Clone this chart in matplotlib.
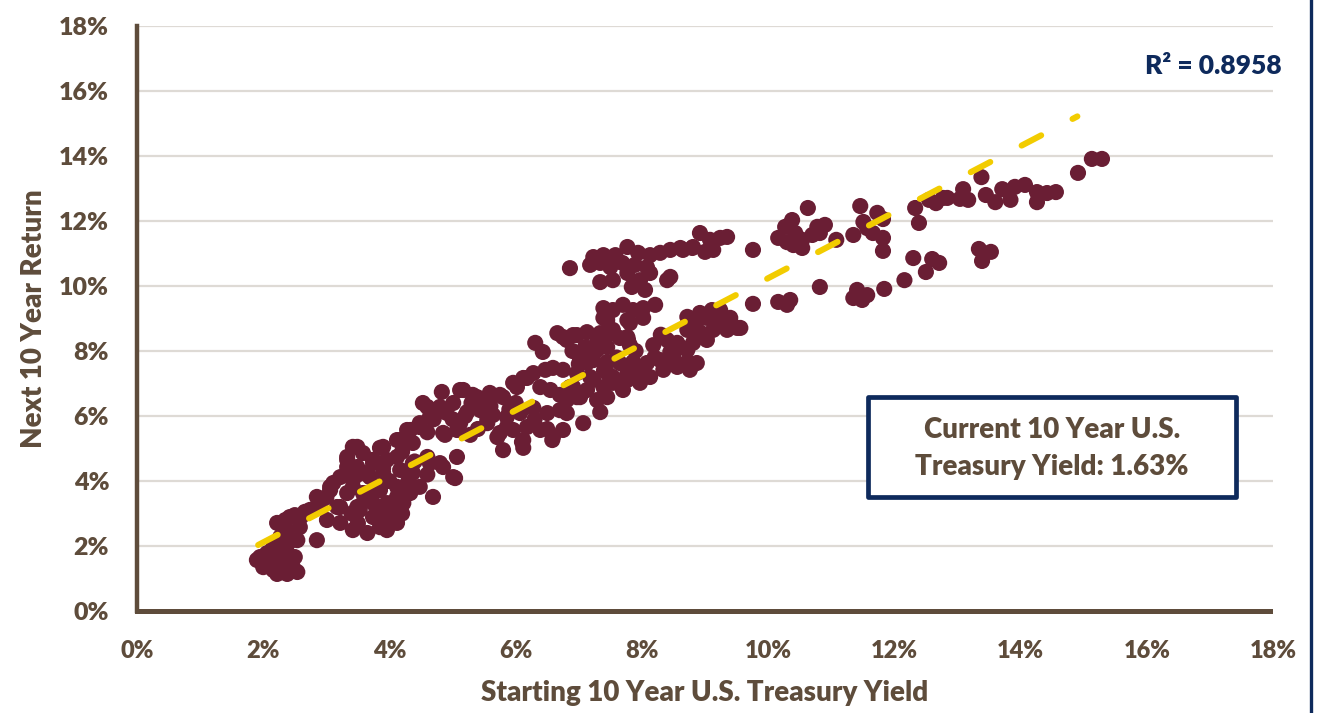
import matplotlib
matplotlib.use("Agg")
import matplotlib.pyplot as plt
from matplotlib.lines import Line2D
from matplotlib.patches import Rectangle
from matplotlib.ticker import FuncFormatter
import numpy as np

# ---- data (percent) ----
start_yield = [
    # low cluster
    1.90, 1.95, 2.06, 2.22, 2.38, 2.50, 2.00, 2.16, 2.31, 2.47, 2.22, 2.38, 2.54,
    2.16, 2.27, 2.54, 2.22, 2.42, 2.38, 2.58, 2.74, 2.90, 3.06, 2.85, 3.01, 3.22,
    3.17, 2.85, 3.11, 2.35, 2.50, 2.66,
    2.10, 2.30, 2.45, 2.20, 2.40, 2.60, 2.90, 3.00,
    # 3-5%
    3.33, 3.49, 3.33, 3.42, 3.65, 3.74, 3.65, 3.85, 3.53, 3.74, 3.42, 3.65, 3.85,
    4.06, 3.96, 4.12, 3.90, 4.12, 4.28, 4.48, 4.37, 4.60, 4.80, 5.07, 5.01, 4.69,
    4.12, 3.96, 3.42, 3.58, 3.85, 3.33, 3.49, 3.74, 3.96, 4.12, 3.22, 3.42, 3.69,
    3.90, 4.17, 4.37, 3.06, 3.33, 3.58, 3.85, 4.12, 4.33, 4.48, 3.22, 3.49, 3.74,
    4.01, 4.22, 3.90, 4.12, 5.04,
    3.50, 3.60, 3.80, 4.00, 4.20, 4.30, 3.50, 3.90, 4.20, 4.40, 3.40, 4.60,
    # 4.3-7%
    4.83, 5.17, 4.53, 4.80, 5.01, 5.39, 5.59, 5.80, 6.02, 6.18, 4.64, 4.88, 5.12,
    5.28, 5.55, 5.71, 5.86, 5.80, 6.12, 6.12, 4.33, 4.48, 4.17, 4.37, 5.12, 5.32,
    5.55, 5.75, 4.60, 5.23, 5.44, 5.64, 5.86, 6.07, 6.28, 6.50, 6.70, 4.85, 5.07,
    5.55, 5.75, 5.96, 6.18, 6.39, 6.59, 6.75, 6.10, 6.58, 4.64, 4.85,
    5.96, 6.12, 6.28, 6.47, 6.59, 6.75, 6.39, 6.55, 6.70, 6.86, 6.97, 7.23, 7.39,
    7.54, 7.70, 7.77, 7.29, 7.34, 7.07,
    6.31, 6.43, 6.66, 6.81, 6.97, 7.13, 7.29, 7.45, 7.65, 7.78, 7.07, 7.23, 7.13,
    7.81, 7.45,
    4.70, 4.90, 5.00, 5.30, 5.40, 5.60, 5.90, 6.30, 6.50, 6.00, 5.20, 4.60,
    # 7-9.6% lower band
    6.75, 6.91, 7.34, 7.54, 7.77, 7.81, 7.10, 7.29, 7.45, 8.18, 8.40, 8.56, 8.72,
    8.87, 9.03, 9.19, 9.35, 9.51, 8.72, 8.92, 9.13, 9.03, 8.81, 8.72, 8.61, 8.45,
    7.02, 7.45, 7.65, 7.86, 8.08, 8.29, 8.49, 8.72, 8.87, 6.97, 7.18, 7.45, 7.92,
    8.13, 8.34, 8.56, 8.76, 6.91, 7.13, 7.54, 7.77, 7.97, 6.81, 7.02, 7.45, 6.81,
    9.24, 9.40, 9.56, 9.11, 8.92,
    7.00, 7.20, 7.60, 7.90, 8.20, 7.40, 7.70, 8.00, 8.50, 6.90, 7.40, 8.30,
    # 7-9.4% upper band
    6.86, 7.23, 7.39, 7.58, 7.77, 7.94, 8.13, 8.29, 8.45, 8.61, 8.80, 7.18, 7.34,
    7.50, 7.69, 7.89, 8.08, 8.13, 7.34, 7.54, 7.77, 7.97, 7.84, 8.05, 8.40, 8.45,
    8.92, 9.08, 9.24, 9.35, 9.13, 9.00, 8.81, 8.65,
    7.39, 7.54, 7.70, 7.86, 8.02, 8.21, 7.39, 7.77, 8.02,
    # 9.7-11.9%
    9.76, 9.76, 10.16, 10.30, 10.35, 10.82, 10.63, 10.38, 10.27, 10.16, 10.30,
    10.40, 10.54, 10.43, 10.54, 10.78, 10.90, 10.70, 10.82, 11.08, 11.46, 11.73,
    11.82, 11.51, 11.57, 11.66, 11.82, 11.35, 11.82, 11.84, 11.41, 11.35, 11.49,
    11.57,
    # 12-15.3%
    12.33, 12.39, 12.30, 12.50, 12.60, 12.71, 12.16, 12.55, 12.66, 12.77, 12.84,
    13.09, 13.04, 13.17, 13.38, 13.45, 13.60, 13.71, 13.84, 13.91, 14.07, 14.26,
    14.26, 14.42, 14.56, 13.34, 13.53, 13.39, 14.91, 15.13, 15.29,
]

next_return = [
    # low cluster
    1.57, 1.66, 1.78, 1.82, 1.78, 1.66, 1.35, 1.26, 1.20, 1.35, 1.14, 1.14, 1.20,
    1.97, 2.28, 2.18, 2.71, 2.89, 2.49, 2.58, 3.11, 3.42, 3.82, 2.18, 2.80, 2.71,
    3.20, 3.51, 3.94, 2.80, 2.95, 3.05,
    1.60, 1.50, 1.55, 2.00, 2.10, 2.90, 3.20, 3.50,
    # 3-5%
    4.43, 5.05, 4.74, 3.82, 4.25, 4.65, 3.63, 3.82, 3.11, 2.89, 2.49, 2.40, 2.58,
    2.80, 3.32, 3.51, 5.05, 5.26, 5.57, 5.78, 4.55, 4.74, 4.55, 4.74, 4.12, 3.51,
    2.71, 2.49, 5.05, 4.86, 5.02, 4.65, 4.43, 4.55, 4.65, 4.74, 4.12, 4.03, 4.12,
    4.25, 4.34, 4.25, 3.72, 3.63, 3.63, 3.72, 3.82, 3.63, 3.82, 3.20, 3.20, 3.32,
    3.20, 3.32, 2.89, 2.89, 4.09,
    2.70, 3.40, 3.00, 4.00, 3.00, 4.00, 4.20, 4.40, 4.90, 4.60, 3.00, 4.20,
    # 4.3-7%
    6.74, 6.80, 6.40, 6.28, 6.40, 6.58, 6.71, 6.58, 6.89, 7.17, 5.97, 5.42, 5.78,
    5.42, 5.88, 5.35, 5.66, 4.95, 5.26, 5.02, 5.57, 5.66, 5.26, 5.17, 6.80, 6.65,
    6.55, 6.65, 6.28, 6.12, 6.18, 6.03, 5.97, 6.09, 6.25, 6.09, 6.18, 5.48, 5.57,
    5.78, 5.48, 5.57, 5.66, 5.57, 5.35, 5.57, 5.20, 5.26, 4.55, 4.43,
    7.02, 7.17, 7.32, 7.42, 7.48, 7.42, 6.89, 6.80, 6.65, 6.89, 6.58, 7.11, 6.89,
    7.20, 6.80, 7.32, 6.49, 6.12, 5.78,
    8.25, 7.97, 8.55, 8.34, 8.49, 8.58, 8.28, 8.49, 8.40, 8.34, 7.94, 7.72, 7.63,
    8.86, 8.95,
    5.90, 6.10, 5.90, 6.40, 5.60, 6.30, 6.20, 5.90, 5.60, 6.40, 6.00, 5.50,
    # 7-9.6% lower band
    8.43, 8.49, 8.55, 8.65, 8.43, 8.18, 8.12, 8.03, 8.12, 8.18, 8.34, 8.25, 9.05,
    8.95, 9.02, 8.95, 8.65, 8.71, 8.65, 8.58, 8.65, 8.34, 8.25, 8.03, 8.12, 7.97,
    7.72, 7.66, 7.63, 7.66, 7.63, 7.72, 7.66, 7.66, 7.63, 7.32, 7.20, 7.32, 7.32,
    7.20, 7.42, 7.51, 7.42, 6.89, 6.80, 7.02, 7.11, 7.02, 6.49, 6.58, 6.58, 6.09,
    9.26, 9.02, 8.71, 9.26, 9.17,
    7.60, 7.90, 7.80, 8.00, 7.80, 7.40, 7.00, 7.40, 7.80, 8.00, 8.30, 8.50,
    # 7-9.4% upper band
    10.55, 10.89, 10.95, 10.95, 11.20, 11.02, 10.95, 11.02, 11.11, 11.17, 11.17,
    10.65, 10.71, 10.58, 10.71, 10.65, 10.58, 10.40, 10.12, 10.18, 10.40, 10.18,
    9.97, 9.88, 10.18, 10.28, 11.63, 11.42, 11.48, 11.51, 11.11, 11.05, 11.20,
    11.11,
    9.32, 9.26, 9.42, 9.26, 9.32, 9.42, 9.02, 8.95, 9.02,
    # 9.7-11.9%
    11.11, 9.45, 9.51, 9.42, 9.57, 9.97, 12.40, 12.03, 11.82, 11.48, 11.35, 11.26,
    11.17, 11.63, 11.42, 11.82, 11.88, 11.57, 11.63, 11.42, 12.46, 12.25, 12.06,
    11.97, 11.78, 11.63, 11.48, 11.57, 11.08, 9.91, 9.88, 9.63, 9.57, 9.72,
    # 12-15.3%
    12.40, 11.94, 10.86, 10.43, 10.83, 10.71, 10.18, 12.65, 12.55, 12.71, 12.71,
    12.98, 12.68, 12.65, 13.35, 12.80, 12.58, 12.98, 12.65, 13.05, 13.11, 12.89,
    12.58, 12.86, 12.89, 11.14, 11.05, 10.77, 13.48, 13.91, 13.91,
]

trend_range = [1.92, 14.9]
trend_slope = 1.016
trend_intercept = 0.08
r_squared = 0.8958
current_yield = 1.63

x_ticks = [0, 2, 4, 6, 8, 10, 12, 14, 16, 18]
y_ticks = [0, 2, 4, 6, 8, 10, 12, 14, 16, 18]

# ---- style ----
FONT = ["Lato", "DejaVu Sans"]
plt.rcParams["font.family"] = FONT
BROWN = "#5E4C3B"
MAROON = "#6A1E34"
GOLD = "#F2CC00"
NAVY = "#0E2A5C"
GRID = "#DEDAD5"
W = "heavy"

fig = plt.figure(figsize=(13.18, 7.13), dpi=100)
ax = fig.add_axes([137 / 1318, 102 / 713, 1136 / 1318, 585 / 713])

ax.set_xlim(0, 18)
ax.set_ylim(0, 18)
ax.set_xticks(x_ticks)
ax.set_yticks(y_ticks)
fmt = FuncFormatter(lambda v, p: f"{v:.0f}%")
ax.xaxis.set_major_formatter(fmt)
ax.yaxis.set_major_formatter(fmt)

ax.grid(axis="y", color=GRID, linewidth=1.6, zorder=0)
ax.set_axisbelow(True)
for s in ["top", "right"]:
    ax.spines[s].set_visible(False)
ax.spines["left"].set_color(BROWN)
ax.spines["left"].set_linewidth(3.2)
ax.spines["bottom"].set_color(BROWN)
ax.spines["bottom"].set_linewidth(3.6)
ax.spines["bottom"].set_bounds(0, 17.95)

ax.tick_params(axis="both", length=0, labelcolor=BROWN)
ax.tick_params(axis="y", pad=20, labelsize=18)
ax.tick_params(axis="x", pad=21, labelsize=17)
for lbl in ax.get_xticklabels() + ax.get_yticklabels():
    lbl.set_fontweight(W)

ax.scatter(start_yield, next_return, s=135, color=MAROON, edgecolors="none",
           zorder=3, clip_on=False)

tx = np.array(trend_range)
ty = trend_slope * tx + trend_intercept
ax.plot(tx, ty, color=GOLD, linewidth=4.4, linestyle=(0, (3.6, 5.8)),
        dash_capstyle="round", solid_capstyle="round", zorder=4)

ax.set_xlabel("Starting 10 Year U.S. Treasury Yield", fontsize=20,
              fontweight=W, color=BROWN)
ax.set_ylabel("Next 10 Year Return", fontsize=20, fontweight=W, color=BROWN)
ax.xaxis.set_label_coords(0.5, -0.118)
ax.yaxis.set_label_coords(-0.079, 0.5)

fig.text(1282 / 1318, 1 - 66 / 713, f"R² = {r_squared:.4f}", ha="right",
         va="center", fontsize=19, fontweight=W, color=NAVY)

# annotation box
box = Rectangle((0.6435, 0.1949), 0.9674 - 0.6435, 0.3658 - 0.1949,
                transform=ax.transAxes, facecolor="white", edgecolor=NAVY,
                linewidth=3.4, zorder=5, joinstyle="round")
ax.add_patch(box)
ax.text(0.8055, 0.3094, "Current 10 Year U.S.", transform=ax.transAxes,
        ha="center", va="center", fontsize=20, fontweight=W,
        color=BROWN, zorder=6)
ax.text(0.8055, 0.2462, f"Treasury Yield: {current_yield:.2f}%",
        transform=ax.transAxes, ha="center", va="center", fontsize=20,
        fontweight=W, color=BROWN, zorder=6)

# navy frame line at right edge
fig.add_artist(Line2D([1311 / 1318, 1311 / 1318], [0, 1],
                      transform=fig.transFigure, color=NAVY, linewidth=2.4))

fig.savefig("out.png", dpi=100)
